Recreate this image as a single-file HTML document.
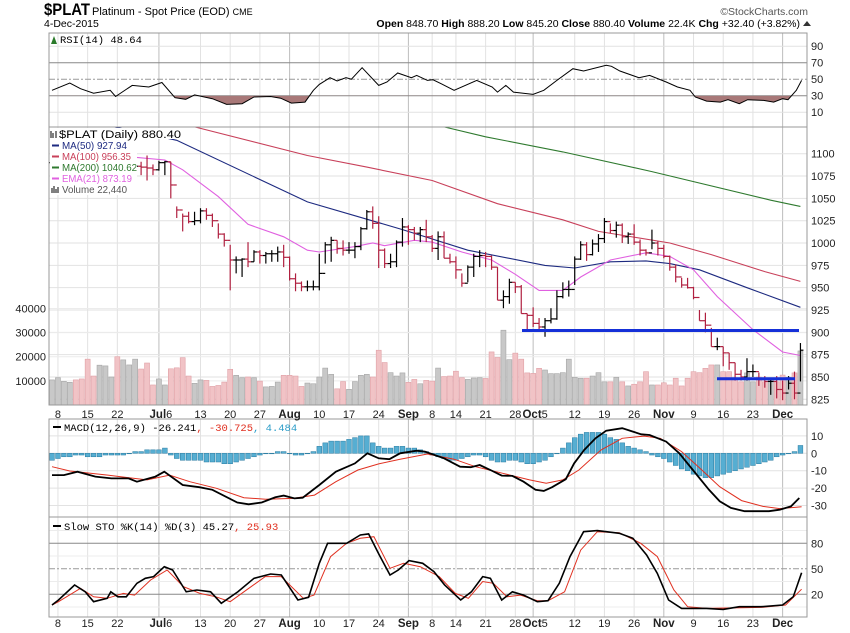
<!DOCTYPE html>
<html><head><meta charset="utf-8">
<style>
body{margin:0;background:#fff;}
svg{display:block;font-family:"Liberation Sans",sans-serif;}
</style></head>
<body>
<svg id="chart" width="850" height="633" viewBox="0 0 850 633" xmlns="http://www.w3.org/2000/svg">
  <rect x="0" y="0" width="850" height="633" fill="#fff"/>
  <g>
    <text x="44" y="15" font-size="17" font-weight="bold" textLength="46" lengthAdjust="spacingAndGlyphs">$PLAT</text>
    <text x="92" y="15" font-size="11">Platinum - Spot Price (EOD) <tspan font-size="9">CME</tspan></text>
    <text x="44" y="27" font-size="10.5">4-Dec-2015</text>
    <text x="808" y="15" font-size="10.5" text-anchor="end" fill="#555">©StockCharts.com</text>
    <text x="800" y="27" font-size="10.5" text-anchor="end"><tspan font-weight="bold">Open</tspan> 848.70 <tspan font-weight="bold">High</tspan> 888.20 <tspan font-weight="bold">Low</tspan> 845.20 <tspan font-weight="bold">Close</tspan> 880.40 <tspan font-weight="bold">Volume</tspan> 22.4K <tspan font-weight="bold">Chg</tspan> +32.40 (+3.82%)</text>
    <path d="M803 26 L807 21 L811 26 Z" fill="#333"/>
  </g>
  <g id="grid"></g>
  <g id="rsi"></g>
  <g id="price"></g>
  <g id="macd"></g>
  <g id="sto"></g>
  <g id="frames"></g>
  <g id="labels"></g>
</svg>
<script>
// ---- data ----
const closes = [1090,1092,1094,1096,1092,1088,1084,1080,1082,1084,1086,1078,1080,1082,1086,1085,1084,1082,1090,1091,1065,1037,1030,1024,1025,1036,1031,1025,1010,1003,981,981,982,979,990,986,988,988,990,984,960,955,951,951,951,966,998,1003,994,992,992,996,1016,1035,1022,992,977,979,1001,1018,1015,1011,1015,1007,994,1007,983,979,970,955,973,985,986,985,973,936,940,956,951,921,919,910,906,913,915,940,948,948,982,998,987,999,1005,1024,1014,1020,1007,1010,1001,992,989,1000,994,985,973,962,953,950,939,913,908,884,884,877,866,853,850,856,856,847,845,845,836,832,843,832,880];
const highs = [1097,1099,1101,1103,1099,1095,1091,1087,1089,1091,1093,1085,1087,1089,1092,1091,1098,1088,1092,1092,1091,1041,1033,1035,1035,1039,1039,1033,1022,1011,998,985,983,1001,992,992,990,992,996,998,985,966,957,958,958,988,1001,1007,1003,1003,1001,1001,1018,1037,1041,1030,994,988,1003,1028,1020,1018,1018,1026,1009,1013,1013,988,985,966,975,988,992,990,986,973,947,960,956,953,921,928,916,916,927,947,956,958,985,1002,1001,1004,1010,1028,1022,1024,1022,1012,1021,1004,993,1015,1002,998,986,976,961,961,951,925,922,905,894,884,877,866,858,871,864,855,851,847,851,846,851,856,888];
const lows = [1083,1085,1087,1089,1085,1081,1077,1073,1075,1077,1079,1071,1073,1075,1078,1076,1070,1076,1081,1076,1050,1028,1013,1022,1020,1022,1026,1018,1005,996,947,966,962,973,979,977,977,979,979,973,958,946,946,946,947,947,977,979,988,986,988,983,992,1015,1016,972,972,972,973,996,998,1003,1001,1001,990,981,983,977,960,951,956,962,973,973,970,936,927,932,944,921,903,906,903,895,910,914,938,940,953,981,980,986,990,1000,1011,1006,1000,999,998,986,986,993,986,983,969,956,950,949,937,913,900,884,880,862,858,846,846,846,850,840,838,830,826,824,836,825,845];
const volumes = [10.4,11.3,9.8,9.4,10.4,10.8,19,12,16.5,16.2,11.6,20,18.7,16.6,19,14.9,17.4,8.3,10.8,8.3,15,15.4,19.6,12,9,10.4,10.2,7.7,8.1,9.5,14.8,12.3,11.3,11.6,11.3,9.9,7.5,7.7,9.5,12.3,12.3,12,7.7,9.1,8.8,11.6,15.3,12.7,6.7,9.7,6.5,9.7,12.3,12.7,11.6,22.7,17.6,13.4,12,13.3,9.4,10.6,8.8,10.2,9.9,15.3,11.8,12,14,11.3,10.6,11.2,11.3,11,22,19.7,31,18.8,21.5,19,13.3,13.1,15.2,14.5,13,13,13.4,19,11.5,11.1,11.1,12,13.4,9.6,9.6,11.5,9.6,7.9,8.6,9.6,13.8,8.3,8.3,9.2,8.3,11.1,7.9,11.1,13.8,13.4,15.2,16.6,16.6,13.8,13.8,11.1,9.6,13.3,9.6,11.6,9.6,10.6,9.6,12.4,11.5,13.3,22.4];
const ma50 = [[0,1145],[21,1115],[43,1046],[59,1015],[70,992],[83,975],[88,972],[94,979],[100,980],[104,977],[109,970],[117,950],[126,928]];
const ma100 = [[0,1160],[24,1130],[43,1098],[53,1085],[64,1070],[75,1044],[86,1026],[92,1013],[104,1000],[111,987],[120,968],[126,957]];
const ma200 = [[0,1175],[66,1130],[73,1119],[86,1102],[101,1080],[121,1048],[126,1041]];
const ema21 = [[0,1100],[14,1096],[19,1093],[22,1082],[28,1052],[33,1021],[39,1007],[43,992],[45,990],[51,996],[54,1000],[56,997],[61,1003],[64,1001],[69,990],[74,981],[78,965],[82,947],[86,947],[89,962],[94,981],[100,989],[104,985],[108,970],[112,940],[118,903],[123,878],[126,874]];
const rsi = [[0,36.5],[3,45.4],[4.8,38.5],[7,33],[9.8,36.5],[10.7,29],[13.5,42.5],[16.3,40.5],[18.5,46],[20.7,27.6],[22.5,25.6],[24,31],[27,26.4],[29.4,19.5],[32,20.3],[34,28.4],[36.8,29],[38.5,27],[40.3,21],[42.6,22.3],[44,36.5],[45,43.7],[46.8,51.8],[48,47.8],[49.5,51.8],[50.4,50],[52.2,64],[55,42.5],[56.4,46.6],[58.2,57.5],[60.5,51.8],[61.4,54.6],[63.2,48.6],[64.1,49.4],[65.5,44.5],[67.7,36.5],[71.5,48.6],[74.1,40.5],[75,34.4],[76.4,42.5],[77.7,34.4],[81,31.6],[82.8,36.5],[85,48.6],[87.7,62.7],[89.5,60],[93.3,66.8],[94.2,65.6],[95.6,60],[98.8,51.8],[100.6,54.6],[103.4,46.6],[105.3,40.5],[107.4,36.5],[108.3,28.4],[110.2,23.5],[112.5,22.3],[113.8,25.2],[115.7,20.3],[117.1,25.2],[119.8,24.3],[121.5,22.3],[123,26.4],[123.9,25.2],[125.3,36.5],[126.2,48.6]];
const macdLine = [[0,-12.5],[2,-12.5],[4.3,-10.6],[7.3,-13.4],[10,-14.4],[12.9,-14.4],[14.3,-16.3],[17.4,-13.4],[18.9,-10.6],[22,-18.2],[24.8,-19.5],[27,-21],[31.2,-28.3],[33.1,-29.3],[35.3,-28.3],[37.6,-25.3],[39,-24.3],[40.8,-25.9],[42.2,-25.5],[45,-18.2],[47.8,-10.6],[51,-5.8],[53.1,0],[55,-2.9],[56.8,-3.4],[58.6,0],[61.4,1.5],[62.8,1],[66,-2.9],[68.7,-7.7],[70.5,-8],[72,-6.7],[73.8,-9.6],[75.7,-12.8],[77.5,-13],[79.4,-16.3],[81.4,-21],[82.8,-21.6],[84.2,-19.5],[86.5,-14.9],[87.9,-5.8],[89.6,1.9],[91.5,8.6],[93.3,13],[96,14.4],[97.8,12.5],[99.2,10.9],[100.6,10.5],[103.4,6.7],[105.6,0],[107.9,-9.6],[110.6,-21],[112.4,-27.6],[114.3,-31.4],[116.6,-33.3],[120.7,-33.3],[122.5,-32.4],[124.4,-30.5],[125.8,-25.7]];
const macdSignal = [[0,-7.7],[3,-10.2],[9.4,-12.5],[16,-15.3],[19.8,-12.5],[23.2,-16.3],[27.7,-20.1],[32.3,-25.5],[36,-26.4],[40.6,-25.9],[44.2,-24],[47.8,-16.3],[51.5,-9.6],[55,-6.1],[58.6,-3.4],[63.2,-0.4],[67.7,-3.4],[71.3,-7.7],[75.9,-11.5],[80.4,-15.3],[83.2,-17.2],[86,-15.3],[88.7,-9.6],[92.4,1.9],[96,8.6],[99.7,9.9],[102.4,8.6],[106,1],[108.8,-7.7],[112.4,-19.2],[116.1,-27.2],[119.7,-30.5],[122.5,-31.8],[125.3,-31],[126.2,-30.7]];
const macdHist = [-4,-3,-2,-2,-1,-1,-2,-2,-2,-1,-1,-1,-1,0,1,1,2,2,2,3,-1,-3,-4,-4,-4,-4,-5,-5,-5,-6,-6,-5,-4,-3,-2,-1,0,0,1,1,0,-1,-1,0,1,4,6,7,7,7,8,9,10,10,6,4,3,3,4,4,3,3,2,1,-1,-2,-3,-4,-4,-3,-2,-1,-1,-2,-4,-5,-5,-4,-4,-5,-6,-6,-5,-4,-2,0,3,6,9,11,12,12,12,11,9,8,6,4,3,2,1,-1,-2,-3,-5,-7,-9,-10,-12,-13,-14,-14,-13,-12,-11,-10,-9,-8,-7,-6,-5,-4,-2,-1,0,1,4.5];
const stoK = [[0,7.4],[1.1,13.3],[3.8,30.9],[5.6,23],[7,11.3],[9.3,15.3],[9.9,23],[11.1,17],[12.5,17],[14.3,33],[15.7,38.8],[17.1,40.8],[18.9,52.5],[20.3,48.6],[22.6,23],[24.4,25],[26.7,23],[28.5,9.4],[31.3,23],[34,38.8],[36.8,43.9],[38.6,42.7],[41.4,13.3],[43.2,16.5],[45,56.5],[46.4,80],[49.6,80],[51.9,89.8],[53.3,91],[55.1,66.2],[56.9,42.7],[58.3,48.6],[60.1,59.6],[62.4,56.5],[64.3,46.7],[66.1,31],[68.8,13.3],[70.6,23],[72.5,40.8],[73.8,38.8],[75.7,13.3],[77.5,23],[79.4,19],[81.7,11.3],[83.5,12.5],[85.4,33],[87.2,64.3],[89.5,93.7],[91.8,94.9],[95.5,91.8],[97.8,85.9],[100.1,66.2],[101.9,44.7],[103.8,13.3],[106,3.4],[110.2,3.4],[113,2.2],[115.7,5.4],[119.4,5.4],[123,7.4],[124.8,17.2],[126.2,45.4]];
const stoD = [[0,7.4],[1.1,11.3],[4.8,27],[7,17],[9.3,15.3],[12,21],[13.9,19],[16.6,36.8],[19.4,48.6],[22.1,29],[24.9,21],[27.6,17],[30,11.3],[32.3,23],[35.9,40.8],[38.6,40.8],[42.3,15.3],[44.1,19],[46.9,64.3],[49.6,80],[51.9,85.9],[54.2,87.8],[56.9,50.6],[59.2,56.5],[62,52.5],[65.2,40.8],[67.9,21],[70.1,15.3],[72.5,35],[74.3,33],[76.6,17],[78.9,19],[81.7,12.5],[83.5,12.5],[86.3,23],[89,72],[91.8,93.7],[95.5,92.5],[99.1,80],[101.9,64.3],[104.7,25],[107,5.4],[110.2,3.4],[119.4,4.6],[123.5,7.4],[126.2,26]];
const weekTicks = [1,6,11,25,30,35,45,50,55,64,68,73,78,88,93,98,108,113,118];
const weekLabels = ["8","15","22","13","20","27","10","17","24","8","14","21","28","12","19","26","9","16","23"];
const monthTicks = [18,40,60,81,103,123];
const monthLabels = ["Jul","Aug","Sep","Oct","Nov","Dec"];
const monthSuffix = ["6","","","5","",""];
const priceTicks = [1100,1075,1050,1025,1000,975,950,925,900,875,850,825];
const volTicks = [40000,30000,20000,10000];
const rsiTicks = [90,70,50,30,10];
const macdTicks = [10,0,-10,-20,-30];
const stoTicks = [80,50,20];

// ---- scales ----
const L=49,R=807;
const xI=i=>52+i*5.94;
const yP=p=>399.3-(p-825)*0.893;
const yV=v=>405-v*2.413;
const yR=v=>62.7+(70-v)*0.825;
const yM=v=>453.3-v*1.74;
const yS=v=>611.3-v*0.85;
const NS="http://www.w3.org/2000/svg";
function mk(tag,attrs,parent,text){const e=document.createElementNS(NS,tag);for(const k in attrs)e.setAttribute(k,attrs[k]);if(text!==undefined)e.textContent=text;parent.appendChild(e);return e;}
const grid=document.getElementById('grid');
const panels=[[33,127],[127,405],[419,517],[517,617]];

weekTicks.forEach(t=>{panels.forEach(p=>{const l=mk('line',{x1:xI(t),x2:xI(t),y1:p[0],y2:p[1],stroke:'#e2e2e2','stroke-width':1},grid);

});});
monthTicks.forEach(t=>{panels.forEach(p=>{const l=mk('line',{x1:xI(t),x2:xI(t),y1:p[0],y2:p[1],stroke:'#bdbdbd','stroke-width':1},grid);

});});
priceTicks.forEach(p=>{const l=mk('line',{x1:L,x2:R,y1:yP(p),y2:yP(p),stroke:'#e2e2e2'},grid);

});
volTicks.forEach(v=>{const l=mk('line',{x1:L,x2:R,y1:yV(v/1000),y2:yV(v/1000),stroke:'#ececec'},grid);

});
[90,10].forEach(v=>{const l=mk('line',{x1:L,x2:R,y1:yR(v),y2:yR(v),stroke:'#e2e2e2'},grid);

});
macdTicks.forEach(v=>{const l=mk('line',{x1:L,x2:R,y1:yM(v),y2:yM(v),stroke:'#e2e2e2'},grid);

});
[35,65,95,5].forEach(v=>{const l=mk('line',{x1:L,x2:R,y1:yS(v),y2:yS(v),stroke:'#ececec'},grid);

});

function pts(arr,yf){return arr.map(d=>xI(d[0]).toFixed(1)+','+yf(d[1]).toFixed(1)).join(' ');}

// ---- RSI ----
const rg=document.getElementById('rsi');
mk('line',{x1:L,x2:R,y1:yR(70),y2:yR(70),stroke:'#888'},rg);
mk('line',{x1:L,x2:R,y1:yR(30),y2:yR(30),stroke:'#888'},rg);
mk('line',{x1:L,x2:R,y1:yR(50),y2:yR(50),stroke:'#999','stroke-dasharray':'6,2,2,2'},rg);
const defs=mk('defs',{},rg);
const cp=mk('clipPath',{id:'below30'},defs);
mk('rect',{x:L,y:yR(30),width:R-L,height:127-yR(30)},cp);
const fillPts=pts(rsi,yR)+' '+xI(rsi[rsi.length-1][0]).toFixed(1)+','+yR(30)+' '+xI(rsi[0][0]).toFixed(1)+','+yR(30);
const rf=mk('polygon',{points:fillPts,fill:'#a87878','clip-path':'url(#below30)'},rg);


const rl=mk('polyline',{points:pts(rsi,yR),fill:'none',stroke:'#000','stroke-width':1},rg);


const rt=mk('text',{x:60,y:43,'font-size':10.5,'font-family':'Liberation Mono, monospace'},rg,'RSI(14) 48.64');


mk('path',{d:'M51 44 L54 36 L57 44 Z',fill:'#2a7a2a'},rg);

// ---- Price ----
const pg=document.getElementById('price');
const cp2=mk('clipPath',{id:'pclip'},defs);
mk('rect',{x:L,y:127,width:R-L,height:278},cp2);
const pc=mk('g',{'clip-path':'url(#pclip)'},pg);
volumes.forEach((v,i)=>{const up=i===0||closes[i]>=closes[i-1];
const b=mk('rect',{x:xI(i)-2.5,y:yV(v),width:5,height:405-yV(v),fill:up?'#c8c8c8':'#f1c3c6',stroke:up?'#a5a5a5':'#e0a0a6','stroke-width':0.6},pc);

});
function line(arr,color,name,w){const l=mk('polyline',{points:pts(arr,yP),fill:'none',stroke:color,'stroke-width':w||1.1},pc);

}
line(ma200,'#2f7a2f','ma200-line');
line(ma100,'#c8405a','ma100-line');
line(ma50,'#1d2a80','ma50-line');
line(ema21,'#e060e0','ema21-line');
closes.forEach((c,i)=>{const up=i===0||c>=closes[i-1];const col=up?'#000':'#b02040';const o=i===0?c:closes[i-1];const x=xI(i);
const g=mk('g',{stroke:col,'stroke-width':1.2},pc);


mk('line',{x1:x,x2:x,y1:yP(highs[i]),y2:yP(lows[i])},g);
mk('line',{x1:x-3,x2:x,y1:yP(o),y2:yP(o)},g);
mk('line',{x1:x,x2:x+3,y1:yP(c),y2:yP(c)},g);});
const s1=mk('line',{x1:522,x2:799,y1:yP(902),y2:yP(902),stroke:'#1530d8','stroke-width':3},pc);


const s2=mk('line',{x1:717,x2:795,y1:yP(848),y2:yP(848),stroke:'#1530d8','stroke-width':3},pc);


// legend
const lg=mk('g',{},pg);


mk('rect',{x:50,y:128,width:87,height:67,fill:'#fff'},lg);
mk('rect',{x:137,y:128,width:45,height:11,fill:'#fff'},lg);
mk('text',{x:59,y:138,'font-size':11,textLength:122,lengthAdjust:'spacingAndGlyphs'},lg,'$PLAT (Daily) 880.40');
mk('path',{d:'M51 131 L51 138 M53 133 L53 138 M56 131 L56 138',stroke:'#000','stroke-width':1},lg);
const leg=[['#1d2a80','MA(50) 927.94',65],['#c8405a','MA(100) 956.35',69],['#2f7a2f','MA(200) 1040.62',75],['#e060e0','EMA(21) 873.19',70]];
leg.forEach((d,k)=>{const y=149+k*11;mk('line',{x1:52,x2:59,y1:y-3.5,y2:y-3.5,stroke:d[0],'stroke-width':2},lg);mk('text',{x:62,y:y,'font-size':10.5,fill:d[0],textLength:d[2],lengthAdjust:'spacingAndGlyphs'},lg,d[1]);});
mk('path',{d:'M52 193 V188 M54 193 V186 M56 193 V189 M58 193 V187',stroke:'#555','stroke-width':1.5},lg);
mk('text',{x:62,y:193,'font-size':10.5,fill:'#555',textLength:65,lengthAdjust:'spacingAndGlyphs'},lg,'Volume 22,440');

// ---- MACD ----
const mg=document.getElementById('macd');
macdHist.forEach((h,i)=>{const y0=yM(0),y1=yM(h);
const b=mk('rect',{x:xI(i)-2.4,y:Math.min(y0,y1),width:4.8,height:Math.max(0.5,Math.abs(y1-y0)),fill:'#56aed2',stroke:'#2a7ca2','stroke-width':0.5},mg);

});
const ms=mk('polyline',{points:pts(macdSignal,yM),fill:'none',stroke:'#e03020','stroke-width':1},mg);


const ml=mk('polyline',{points:pts(macdLine,yM),fill:'none',stroke:'#000','stroke-width':1.8},mg);


const mt=mk('text',{x:64,y:431,'font-size':10.5,'font-family':'Liberation Mono, monospace'},mg);


mk('tspan',{},mt,'MACD(12,26,9) -26.241');mk('tspan',{fill:'#e03020'},mt,', -30.725');mk('tspan',{fill:'#2a9cc8'},mt,', 4.484');
mk('line',{x1:53,x2:61,y1:427,y2:427,stroke:'#000','stroke-width':2},mg);

// ---- STO ----
const sg=document.getElementById('sto');
mk('line',{x1:L,x2:R,y1:yS(80),y2:yS(80),stroke:'#888'},sg);
mk('line',{x1:L,x2:R,y1:yS(20),y2:yS(20),stroke:'#888'},sg);
mk('line',{x1:L,x2:R,y1:yS(50),y2:yS(50),stroke:'#999','stroke-dasharray':'6,2,2,2'},sg);
const sd=mk('polyline',{points:pts(stoD,yS),fill:'none',stroke:'#e03020','stroke-width':1},sg);


const sk=mk('polyline',{points:pts(stoK,yS),fill:'none',stroke:'#000','stroke-width':1.6},sg);


const st=mk('text',{x:64,y:530,'font-size':10.5,'font-family':'Liberation Mono, monospace'},sg);


mk('tspan',{},st,'Slow STO %K(14) %D(3) 45.27');mk('tspan',{fill:'#e03020'},st,', 25.93');
mk('line',{x1:53,x2:61,y1:526,y2:526,stroke:'#000','stroke-width':2},sg);

// ---- frames ----
const fg=document.getElementById('frames');
panels.forEach(p=>{const r=mk('rect',{x:L,y:p[0],width:R-L,height:p[1]-p[0],fill:'none',stroke:'#999','stroke-width':1},fg);

});

// ---- labels ----
const lb=document.getElementById('labels');
function axisText(x,y,t,name,anchor){const e=mk('text',{x:x,y:y,'font-size':11,'text-anchor':anchor||'start',fill:'#222'},lb,t);

}
rsiTicks.forEach(v=>axisText(811,yR(v)+4,String(v),'rsi-tick-label'));
priceTicks.forEach(p=>axisText(811,yP(p)+4,String(p),'price-tick-label'));
volTicks.forEach(v=>axisText(46,yV(v/1000)+4,String(v),'volume-tick-label','end'));
macdTicks.forEach(v=>axisText(811,yM(v)+4,String(v),'macd-tick-label'));
stoTicks.forEach(v=>axisText(811,yS(v)+4,String(v),'sto-tick-label'));
[414,623].forEach(y=>{
 weekTicks.forEach((t,k)=>axisText(xI(t),y+4,weekLabels[k],'date-label','middle'));
 monthTicks.forEach((t,k)=>{const e=mk('text',{x:xI(t)-(monthSuffix[k]?-2:0),y:y+4,'font-size':11.5,'text-anchor':'middle',fill:'#222'},lb);
 
 
 mk('tspan',{'font-weight':'bold'},e,monthLabels[k]);
 if(monthSuffix[k])mk('tspan',{'font-size':11},e,monthSuffix[k]);});
});
</script>
</body></html>
